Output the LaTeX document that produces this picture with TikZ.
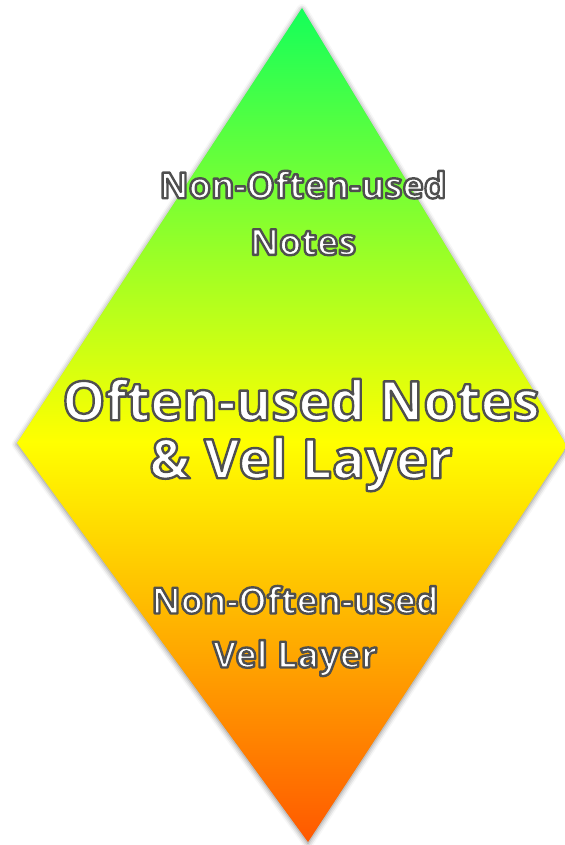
\documentclass[tikz,border=0pt]{standalone}
\usepackage{fontspec}
\setmainfont{Open Sans}
\usepackage{xcolor}
\usetikzlibrary{shadows.blur}

\definecolor{topgreen}{RGB}{20,255,90}
\definecolor{midyellow}{RGB}{255,255,0}
\definecolor{botorange}{RGB}{255,88,0}

% white letters with a grey rim (fill and stroke in one go)
\newcommand{\rimtext}[1]{\special{pdf:literal direct 2 Tr 1 j 1.8 w 0.31 0.31 0.31 RG}#1\special{pdf:literal direct 0 Tr}}

\pgfdeclareverticalshading{diamondfill}{100bp}{color(0bp)=(botorange); color(25bp)=(botorange); color(49bp)=(midyellow); color(75bp)=(topgreen); color(100bp)=(topgreen)}

\begin{document}
\begin{tikzpicture}[x=0.75pt,y=-0.75pt,
      layer style/.style={text=white,align=center,inner sep=0pt,
        font=\bfseries\fontsize{27}{42.5}\selectfont},
      core style/.style={text=white,align=center,inner sep=0pt,
        font=\bfseries\fontsize{40.8}{43.5}\selectfont}
      ]
      \useasboundingbox (0,0) rectangle (564,845);

      \coordinate (apex) at (302,8);
      \coordinate (west) at (17,443);
      \coordinate (nadir) at (308,842);
      \coordinate (east) at (567,446);

      \shade[shading=diamondfill,
        blur shadow={shadow xshift=0pt,shadow yshift=-1pt,shadow blur radius=4pt,shadow opacity=50}]
        (apex) -- (west) -- (nadir) -- (east) -- cycle;

      \node[layer style] (notes) at (303,213)
        {\rimtext{Non-Often-used}\\\rimtext{Notes}};
      \node[core style] (core) at (301,435)
        {\rimtext{Often-used Notes}\\\rimtext{\& Vel Layer}};
      \node[layer style,font=\bfseries\fontsize{27}{40.5}\selectfont] (vel) at (295,631)
        {\rimtext{Non-Often-used}\\\rimtext{Vel Layer}};

    \end{tikzpicture}
\end{document}
